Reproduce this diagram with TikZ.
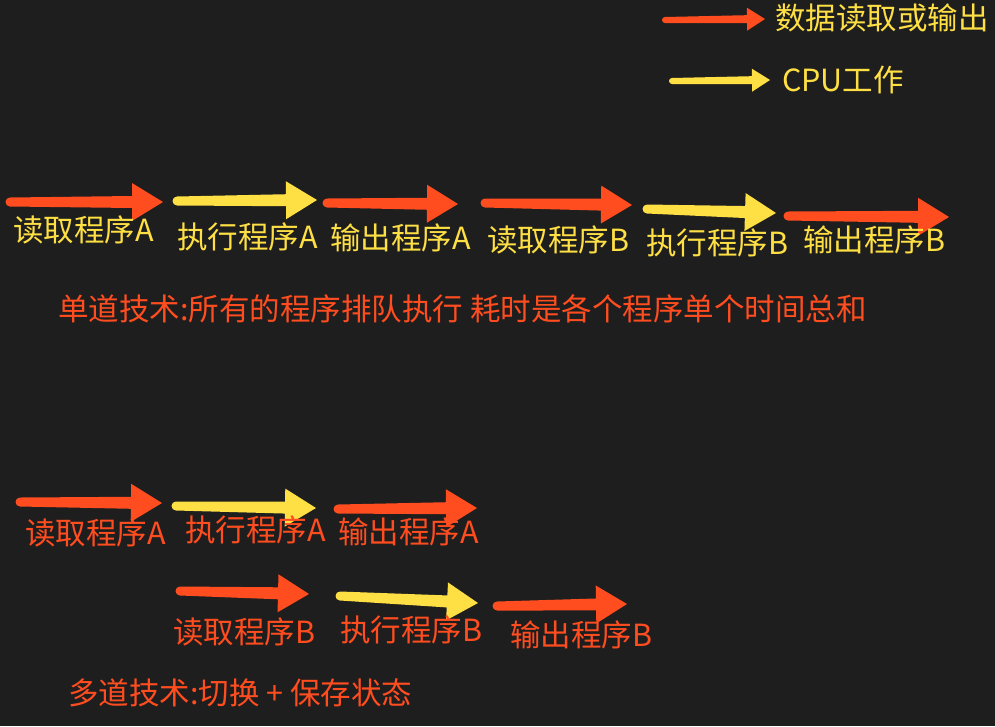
\documentclass[tikz,border=0pt]{standalone}
\usepackage{fontspec}
\setmainfont{Noto Sans CJK SC}
\usetikzlibrary{calc}

\definecolor{bgdark}{HTML}{1E1E1E}
\definecolor{ioRed}{HTML}{FF4D20}
\definecolor{cpuYellow}{HTML}{FFE044}

% fat hand-drawn style arrow from tail coordinate #2 to tip coordinate #3
\newcommand{\flowarrow}[3][]{%
  \fill[#1] let \p1=($(#3)-(#2)$), \n1={atan2(\y1,\x1)} in
    ($(#2)+(\n1-90:\tailw)$)
    arc[start angle=\n1-90, end angle=\n1-270, radius=\tailw]
    -- ($(#3)+(\n1+180:\headlen)+(\n1+90:\neckw)$)
    -- ($(#3)+(\n1+180:\headlen)+(\n1+90:\headw)$)
    -- (#3)
    -- ($(#3)+(\n1+180:\headlen)+(\n1-90:\headw)$)
    -- ($(#3)+(\n1+180:\headlen)+(\n1-90:\neckw)$)
    -- cycle;}

\begin{document}
\begin{tikzpicture}[
  x=1pt, y=-1pt,
  mainarrow/.code={\def\tailw{4.5pt}\def\neckw{6pt}\def\headlen{31pt}\def\headw{19pt}},
  keyarrow/.code={\def\tailw{3pt}\def\neckw{4pt}\def\headlen{18pt}\def\headw{11.5pt}},
  lbl/.style={anchor=west, inner sep=0pt, font=\fontsize{30.5}{36}\selectfont},
  ylbl/.style={lbl, text=cpuYellow},
  rlbl/.style={lbl, text=ioRed}
]

\path[use as bounding box, fill=bgdark] (0,0) rectangle (995,726);

% legend
\coordinate (keyIOs) at (665,20);
\coordinate (keyIOe) at (765,19);
\coordinate (keyCPUs) at (672,81);
\coordinate (keyCPUe) at (770,80);
\flowarrow[ioRed, keyarrow]{keyIOs}{keyIOe}
\flowarrow[cpuYellow, keyarrow]{keyCPUs}{keyCPUe}
\node[ylbl] (keyIO) at (775,18) {数据读取或输出};
\node[ylbl] (keyCPU) at (782,80) {CPU工作};

% single program run
\coordinate (sReadAs) at (10,202);   \coordinate (sReadAe) at (163,202);
\coordinate (sExecAs) at (177,201);  \coordinate (sExecAe) at (317,200);
\coordinate (sOutAs) at (327,203);   \coordinate (sOutAe) at (458,204);
\coordinate (sReadBs) at (485,203);  \coordinate (sReadBe) at (632,205);
\coordinate (sExecBs) at (647,209);  \coordinate (sExecBe) at (776,213);
\coordinate (sOutBs) at (788,216);   \coordinate (sOutBe) at (949,217);
\flowarrow[ioRed, mainarrow]{sReadAs}{sReadAe}
\flowarrow[cpuYellow, mainarrow]{sExecAs}{sExecAe}
\flowarrow[ioRed, mainarrow]{sOutAs}{sOutAe}
\flowarrow[ioRed, mainarrow]{sReadBs}{sReadBe}
\flowarrow[cpuYellow, mainarrow]{sExecBs}{sExecBe}
\flowarrow[ioRed, mainarrow]{sOutBs}{sOutBe}
\node[ylbl] (sReadA) at (13,230) {读取程序A};
\node[ylbl] (sExecA) at (177,237) {执行程序A};
\node[ylbl] (sOutA) at (330,238) {输出程序A};
\node[ylbl] (sReadB) at (487,240) {读取程序B};
\node[ylbl] (sExecB) at (646,243) {执行程序B};
\node[ylbl] (sOutB) at (803,240) {输出程序B};
\node[rlbl] (single) at (58,309) {单道技术:所有的程序排队执行 耗时是各个程序单个时间总和};

% multi program run
\coordinate (mReadAs) at (20,502);   \coordinate (mReadAe) at (162,503);
\coordinate (mExecAs) at (176,506);  \coordinate (mExecAe) at (316,508);
\coordinate (mOutAs) at (338,509);   \coordinate (mOutAe) at (477,508);
\coordinate (mReadBs) at (180,591);  \coordinate (mReadBe) at (309,594);
\coordinate (mExecBs) at (340,596);  \coordinate (mExecBe) at (478,603);
\coordinate (mOutBs) at (497,606);   \coordinate (mOutBe) at (627,604);
\flowarrow[ioRed, mainarrow]{mReadAs}{mReadAe}
\flowarrow[cpuYellow, mainarrow]{mExecAs}{mExecAe}
\flowarrow[ioRed, mainarrow]{mOutAs}{mOutAe}
\flowarrow[ioRed, mainarrow]{mReadBs}{mReadBe}
\flowarrow[cpuYellow, mainarrow]{mExecBs}{mExecBe}
\flowarrow[ioRed, mainarrow]{mOutBs}{mOutBe}
\node[rlbl] (mReadA) at (25,533) {读取程序A};
\node[rlbl] (mExecA) at (185,530) {执行程序A};
\node[rlbl] (mOutA) at (338,532) {输出程序A};
\node[rlbl] (mReadB) at (173,632) {读取程序B};
\node[rlbl] (mExecB) at (340,630) {执行程序B};
\node[rlbl] (mOutB) at (510,635) {输出程序B};
\node[rlbl] (multi) at (68,693) {多道技术:切换 + 保存状态};

\end{tikzpicture}
\end{document}
